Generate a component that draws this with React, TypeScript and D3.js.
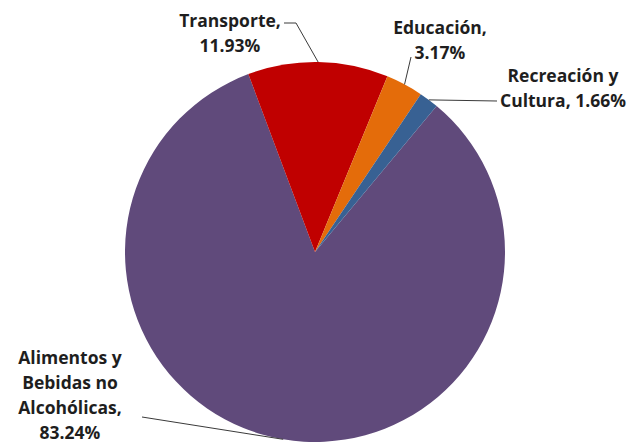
import React from "react";
import * as d3 from "d3";

const categories = ["Alimentos y Bebidas no Alcohólicas", "Transporte", "Educación", "Recreación y Cultura"];
const values = [83.24, 11.93, 3.17, 1.66];
const labelLines = [
  ["Alimentos y", "Bebidas no", "Alcohólicas,", "83.24%"],
  ["Transporte,", "11.93%"],
  ["Educación,", "3.17%"],
  ["Recreación y", "Cultura, 1.66%"],
];
const colors = ["#604a7b", "#c00000", "#e46c0a", "#386193"];

const W = 631;
const H = 444;
const cx = 315;
const cy = 252;
const R = 190;
const START_DEG = 39.8;
const LH = 25;

// label layout: text center x, first baseline y, leader polyline start points
const labelLayout = [
  { x: 70, y: 364, leader: [[142, 417]] },
  { x: 230, y: 27, leader: [[284, 23], [296, 23]] },
  { x: 440, y: 34, leader: [[411, 57]] },
  { x: 563, y: 82, leader: [[497, 101]] },
];

export default function App() {
  const pie = d3
    .pie<number>()
    .sort(null)
    .startAngle((START_DEG * Math.PI) / 180)
    .endAngle((START_DEG * Math.PI) / 180 + 2 * Math.PI);
  const arcs = pie(values);
  const arc = d3.arc<d3.PieArcDatum<number>>().innerRadius(0).outerRadius(R);

  return (
    <svg width={W} height={H} style={{ position: "absolute", left: 0, top: 0, background: "#fff" }}>
      <g transform={`translate(${cx},${cy})`}>
        {arcs.map((a, i) => (
          <path key={categories[i]} d={arc(a) || ""} fill={colors[i]} />
        ))}
      </g>
      {arcs.map((a, i) => {
        const mid = (a.startAngle + a.endAngle) / 2;
        const ax = cx + R * Math.sin(mid);
        const ay = cy - R * Math.cos(mid);
        const pts = [...labelLayout[i].leader, [ax, ay]];
        const line = d3.line()(pts as [number, number][]) || "";
        return <path key={"l" + i} d={line} fill="none" stroke="#3a3a3a" strokeWidth={1} />;
      })}
      {labelLines.map((lines, i) => (
        <text
          key={"t" + i}
          x={labelLayout[i].x}
          y={labelLayout[i].y}
          textAnchor="middle"
          fontFamily="'Open Sans', sans-serif"
          fontWeight={700}
          fontSize={17.5}
          fill="#1e1e1e"
        >
          {lines.map((ln, j) => (
            <tspan key={j} x={labelLayout[i].x} y={labelLayout[i].y + j * LH}>
              {ln}
            </tspan>
          ))}
        </text>
      ))}
    </svg>
  );
}
